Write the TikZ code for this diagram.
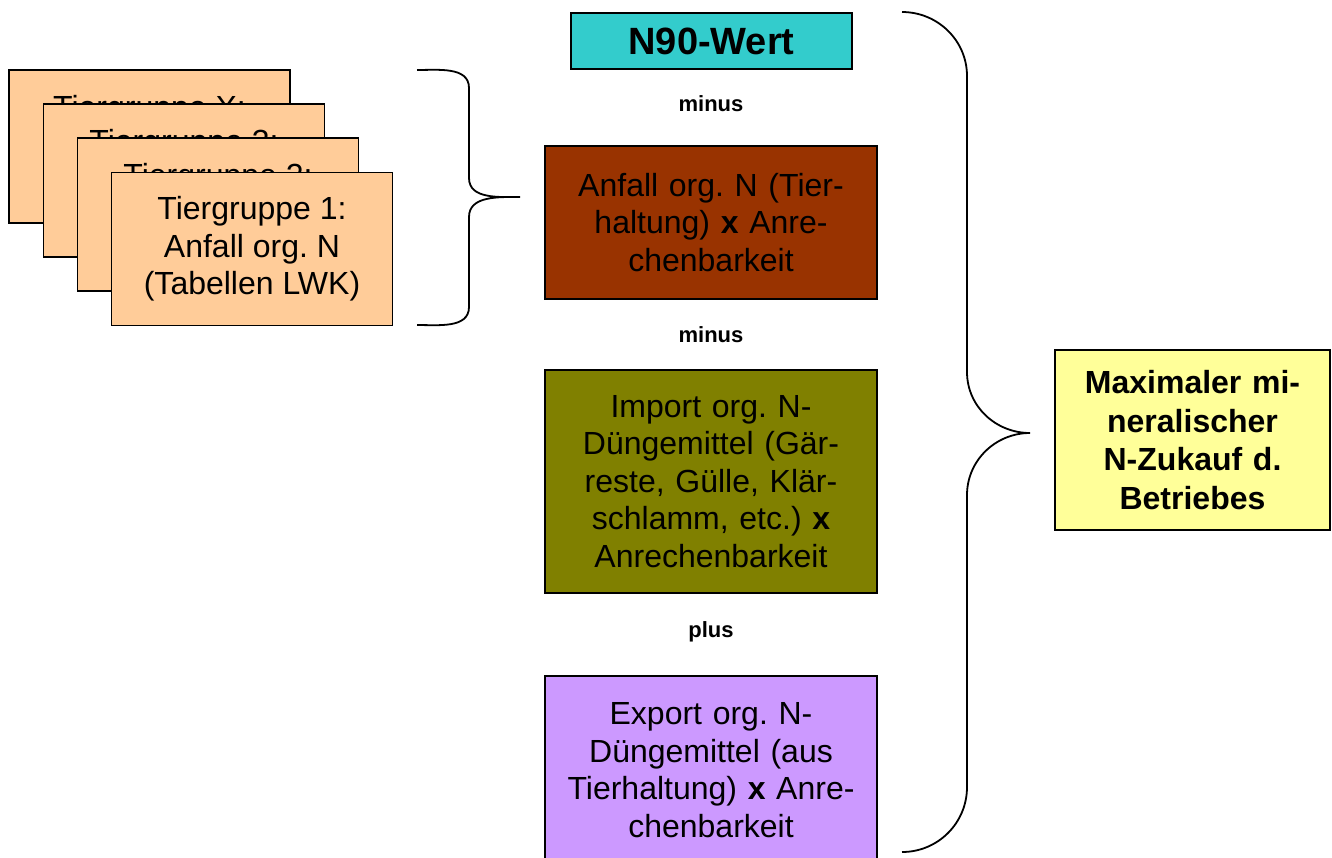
\documentclass[tikz,border=0pt]{standalone}
\usepackage{fontspec}
\setmainfont{Liberation Sans}
\frenchspacing

\begin{document}
\begin{tikzpicture}[x=1pt, y=1pt,
    card/.style={draw, line width=1.3pt, fill={rgb,255:red,255;green,204;blue,153},
        minimum width=281pt, minimum height=153pt, inner sep=0pt, align=center,
        font=\fontsize{32}{37.5}\selectfont},
    cardtext/.style={font=\fontsize{32}{37.5}\selectfont},
    box/.style={draw, line width=1.3pt, minimum width=332pt, text width=326pt,
        align=center, inner sep=0pt, font=\fontsize{32}{37.5}\selectfont},
    op/.style={font=\bfseries\fontsize{22}{26}\selectfont},
    brace/.style={line width=1.8pt}]
    \useasboundingbox (0, 0) rectangle (1332, -857);

    % stacked cards
    \node [card] (tgX) at (149.5, -146.5) {};
    \node [cardtext] (tgXtext) at (149.5, -110) {Tiergruppe X:};
    \node [card] (tg3) at (184, -180.5) {};
    \node [cardtext] (tg3text) at (184, -144) {Tiergruppe 3:};
    \node [card] (tg2) at (218, -214.5) {};
    \node [cardtext] (tg2text) at (218, -178) {Tiergruppe 2:};
    \node [card] (tg1) at (252, -249) {Tiergruppe 1:\\Anfall org. N\\(Tabellen LWK)};

    \draw [brace] (417, -70) to[out=0, in=90] (469, -88) -- (469, -178)
        to[out=-90, in=180] (520, -197) to[out=180, in=90] (469, -217)
        -- (469, -307) to[out=-90, in=0] (417, -325);

    % middle column
    \node [box, fill={rgb,255:red,51;green,204;blue,204}, minimum width=281pt, text width=270pt,
        minimum height=56pt, font=\bfseries\fontsize{38}{40}\selectfont] (nwert) at (711.5, -41) {N90-Wert};
    \node [op] (minus1) at (711, -104) {minus};
    \node [box, fill={rgb,255:red,153;green,51;blue,0}, minimum height=153pt] (anfall) at (711, -222.5)
        {Anfall org. N (Tier-\\haltung) \textbf{x} Anre-\\chenbarkeit};
    \node [op] (minus2) at (711, -335) {minus};
    \node [box, fill={rgb,255:red,128;green,128;blue,0}, minimum height=223pt] (import) at (711, -481.5)
        {Import org. N-\\Düngemittel (Gär-\\reste, Gülle, Klär-\\schlamm, etc.) \textbf{x}\\Anrechenbarkeit};
    \node [op] (plus) at (711, -632) {plus};
    \node [box, fill={rgb,255:red,204;green,153;blue,255}, minimum height=188pt] (export) at (711, -770)
        {Export org. N-\\Düngemittel (aus\\Tierhaltung) \textbf{x} Anre-\\chenbarkeit};

    \draw [brace] (902, -12) to[out=0, in=90] (967, -76) -- (967, -372)
        to[out=-90, in=180] (1030, -433) to[out=180, in=90] (967, -495)
        -- (967, -787) to[out=-90, in=0] (902, -852);

    % result
    \node [box, fill={rgb,255:red,255;green,255;blue,153}, minimum width=275pt, text width=270pt,
        minimum height=180pt, font=\bfseries\fontsize{32}{38.5}\selectfont] (zukauf) at (1192.5, -440)
        {Maximaler mi-\\neralischer\\N-Zukauf d.\\Betriebes};
\end{tikzpicture}
\end{document}
